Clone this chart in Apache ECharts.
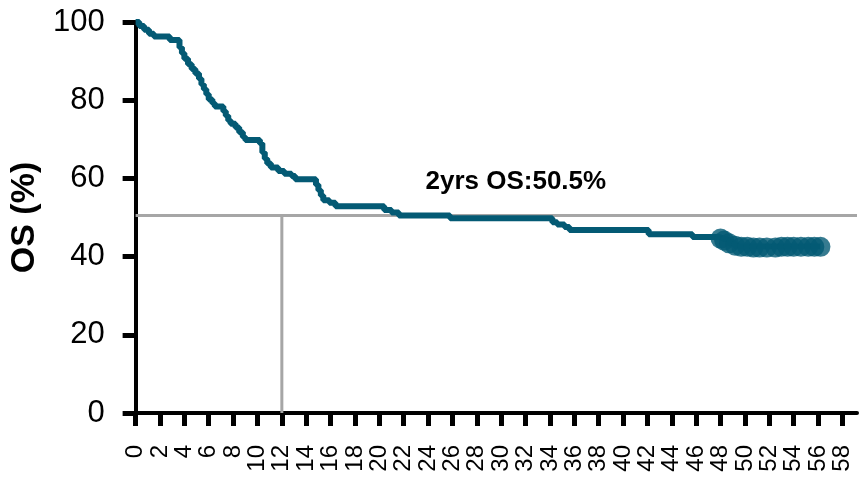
<!DOCTYPE html>
<html>
<head>
<meta charset="utf-8">
<script src="https://cdn.jsdelivr.net/npm/echarts@6/dist/echarts.min.js"></script>
<style>html,body{margin:0;padding:0;background:#fff}#c{width:864px;height:484px}</style>
</head>
<body>
<div id="c"></div>
<script>
// Kaplan-Meier steps: [month, OS %] (value after the step)
var kmSteps = [
  [0,100],[0.3,99],[0.7,98],[1.1,97],[1.5,96.3],[2.8,95.4],[3.6,93.5],[3.8,92],[4.0,90.6],
  [4.3,89.2],[4.6,88],[4.9,86.8],[5.2,85.5],[5.4,84],[5.6,82.8],[5.8,81.5],[6.0,80.2],
  [6.3,79.2],[6.5,78.4],[7.2,77.2],[7.4,76],[7.6,74.8],[7.8,74],[8.2,73],[8.5,71.8],
  [8.8,70.6],[9.0,69.8],[10.2,68.9],[10.4,66.6],[10.6,65],[10.8,63.8],[11.1,62.8],
  [11.7,61.9],[12.2,61.2],[12.8,60.6],[13.1,59.8],[14.8,58.4],[15.0,57],[15.2,55.6],
  [15.4,54.4],[15.9,53.8],[16.4,52.9],[20.4,51.9],[21.0,51.3],[21.6,50.5],[25.8,49.8],
  [34.2,48.8],[34.6,48.2],[35.2,47.6],[35.6,46.8],[42.1,45.7],[45.7,45.0],[47.9,44.6],
  [48.3,44.1],[48.7,43.4],[49.2,42.6],[56.2,42.6]
];
// censored observations
var censored = [
  [48.0,44.6],[48.3,44.1],[48.7,43.4],[49.2,42.8],[49.7,42.5],[50.2,42.5],[50.7,42.3],
  [51.2,42.3],[51.8,42.3],[52.5,42.3],[53.0,42.5],[53.5,42.5],[54.0,42.5],[54.6,42.5],
  [55.2,42.5],[55.7,42.5],[56.2,42.5]
];
var xTicks = [0,2,4,6,8,10,12,14,16,18,20,22,24,26,28,30,32,34,36,38,40,42,44,46,48,50,52,54,56,58];
var refOS = 50.5;
var refMonth = 12;
var xMax = 59.2;
var annotText = '2yrs OS:50.5%';
var annotPos = [31.2, 59];

var chart = echarts.init(document.getElementById('c'), null, {renderer:'canvas'});
var font = '"Liberation Sans", Arial, sans-serif';
chart.setOption({
  animation:false,
  grid:{left:127, right:7, top:22, bottom:71, containLabel:false},
  xAxis:{
    type:'value', min:0, max:xMax,
    axisLine:{show:true, onZero:false, lineStyle:{color:'#000', width:4}},
    axisTick:{show:true, length:13, customValues:xTicks, lineStyle:{color:'#000', width:5}},
    axisLabel:{show:true, customValues:xTicks, rotate:90, margin:32, fontSize:24, color:'#000', fontFamily:font, showMinLabel:true, showMaxLabel:true},
    splitLine:{show:false}
  },
  yAxis:{
    type:'value', min:0, max:100, interval:20,
    name:'OS (%)', nameLocation:'middle', nameGap:82, nameRotate:90,
    nameTextStyle:{fontSize:34, fontWeight:'bold', color:'#000', fontFamily:font},
    axisLine:{show:true, lineStyle:{color:'#000', width:4}},
    axisTick:{show:true, length:13, lineStyle:{color:'#000', width:5}},
    axisLabel:{margin:31, fontSize:31, color:'#000', fontFamily:font},
    splitLine:{show:false}
  },
  series:[
    {
      type:'line', z:1, silent:true, symbol:'none',
      data:[[0,refOS],[xMax,refOS]],
      lineStyle:{color:'#a6a6a6', width:3}
    },
    {
      type:'line', z:1, silent:true, symbol:'none',
      data:[[refMonth,0],[refMonth,refOS]],
      lineStyle:{color:'#a6a6a6', width:3}
    },
    {
      type:'line', z:3, step:'end', symbol:'none',
      data:kmSteps,
      lineStyle:{color:'#045a74', width:6},
      markPoint:{
        symbol:'circle', symbolSize:1, itemStyle:{color:'transparent'},
        label:{show:true, formatter:annotText, fontSize:26, fontWeight:'bold', color:'#000', fontFamily:font, position:'inside'},
        data:[{coord:annotPos}]
      }
    },
    {
      type:'scatter', z:4, symbol:'circle', symbolSize:20,
      data:censored,
      itemStyle:{color:'#045a74'}
    }
  ]
});
</script>
</body>
</html>
